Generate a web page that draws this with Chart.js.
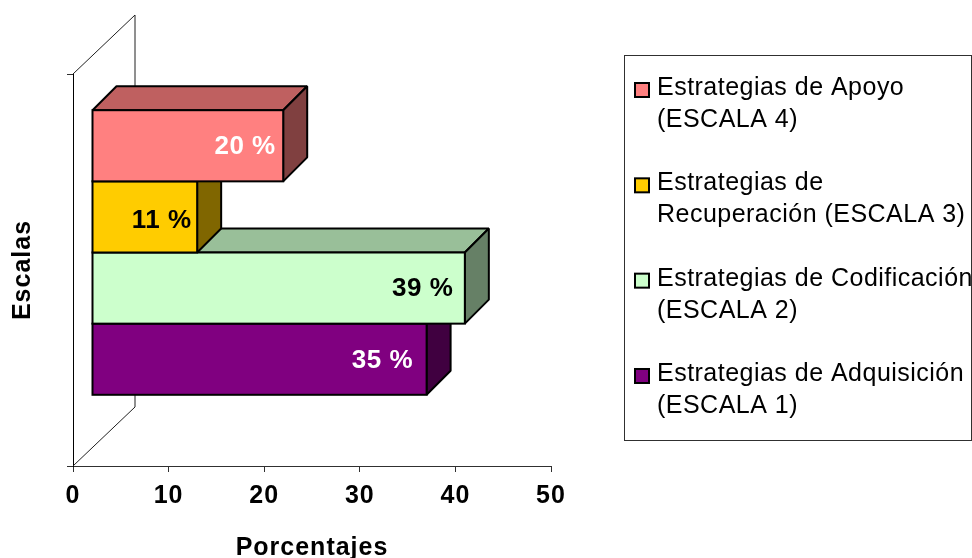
<!DOCTYPE html>
<html lang="es">
<head>
<meta charset="utf-8">
<title>Estrategias por escala</title>
<script src="https://cdn.jsdelivr.net/npm/chart.js@4/dist/chart.umd.js"></script>
<style>
  html, body { margin: 0; padding: 0; background: #ffffff; }
  canvas { display: block; }
</style>
</head>
<body>
<canvas id="grafico" width="972" height="558"></canvas>
<script>
// Series, top to bottom in the bar stack
const seriesNames = ['Estrategias de Apoyo (ESCALA 4)', 'Estrategias de Recuperación (ESCALA 3)', 'Estrategias de Codificación (ESCALA 2)', 'Estrategias de Adquisición (ESCALA 1)'];
const legendLines = [
  ['Estrategias de Apoyo', '(ESCALA 4)'],
  ['Estrategias de', 'Recuperación (ESCALA 3)'],
  ['Estrategias de Codificación', '(ESCALA 2)'],
  ['Estrategias de Adquisición', '(ESCALA 1)']
];
const percentages = [20, 11, 39, 35];
const frontColors = ['#FF8080', '#FFCC00', '#CCFFCC', '#800080'];
const topColors = ['#BF6060', '#BF9900', '#99BF99', '#600060'];
const sideColors = ['#804040', '#806600', '#668066', '#400040'];
const labelColors = ['#FFFFFF', '#000000', '#000000', '#FFFFFF'];
const categories = ['Escalas'];
const xTicks = [0, 10, 20, 30, 40, 50];

// Oblique projection of the box: wall depth and where the bars sit within it
const WALL_DX = 62, WALL_DY = 59;
const BAR_SHIFT_X = 19, BAR_SHIFT_Y = -17.5;
const BAR_DX = 24, BAR_DY = 24;
const labelInsets = [8, 6, 12, 14];
const labelLifts = [1.5, 4, 1, 1.5];

const fontFamily = '"Liberation Sans", Arial, sans-serif';

function poly(ctx, pts, fill) {
  ctx.beginPath();
  pts.forEach((p, i) => i ? ctx.lineTo(p[0], p[1]) : ctx.moveTo(p[0], p[1]));
  ctx.closePath();
  ctx.fillStyle = fill;
  ctx.fill();
  ctx.stroke();
}

const box3d = {
  id: 'box3d',
  beforeDraw(chart) {
    chart.ctx.letterSpacing = '1px';
  },
  // Back wall outline behind the bars
  beforeDatasetsDraw(chart) {
    const { ctx, chartArea: a } = chart;
    ctx.save();
    ctx.strokeStyle = '#202020';
    ctx.lineWidth = 1;
    ctx.beginPath();
    ctx.moveTo(a.left, a.top);
    ctx.lineTo(a.left + WALL_DX, a.top - WALL_DY);
    ctx.lineTo(a.left + WALL_DX, a.bottom - WALL_DY);
    ctx.lineTo(a.left, a.bottom);
    ctx.stroke();
    ctx.restore();
  },
  // Top and side faces go under the front face the library draws
  beforeDatasetDraw(chart, args) {
    const ctx = chart.ctx;
    const i = args.index;
    ctx.save();
    ctx.translate(BAR_SHIFT_X, BAR_SHIFT_Y);
    const bar = args.meta.data[0];
    const top = bar.y - bar.height / 2, bottom = bar.y + bar.height / 2;
    const left = bar.base, right = bar.x;
    ctx.save();
    ctx.strokeStyle = '#000000';
    ctx.lineWidth = 2;
    ctx.lineJoin = 'bevel';
    poly(ctx, [[left, top], [left + BAR_DX, top - BAR_DY], [right + BAR_DX, top - BAR_DY], [right, top]], topColors[i]);
    poly(ctx, [[right, top], [right + BAR_DX, top - BAR_DY], [right + BAR_DX, bottom - BAR_DY], [right, bottom]], sideColors[i]);
    ctx.restore();
  },
  // Outline of the front face and its value label
  afterDatasetDraw(chart, args) {
    const ctx = chart.ctx;
    const i = args.index;
    const bar = args.meta.data[0];
    ctx.save();
    ctx.strokeStyle = '#000000';
    ctx.lineWidth = 2;
    ctx.strokeRect(bar.base, bar.y - bar.height / 2, bar.x - bar.base, bar.height);
    ctx.font = 'bold 26px ' + fontFamily;
    ctx.letterSpacing = '0.5px';
    ctx.fillStyle = labelColors[i];
    ctx.textAlign = 'right';
    ctx.textBaseline = 'middle';
    ctx.fillText(percentages[i] + ' %', bar.x - labelInsets[i] + 0.5, bar.y + labelLifts[i]);
    ctx.restore();
    ctx.restore();
  },
  // Boxed legend with wrapped entries
  afterDraw(chart) {
    const ctx = chart.ctx;
    ctx.save();
    ctx.letterSpacing = '0.48px';
    ctx.strokeStyle = '#303030';
    ctx.lineWidth = 1;
    ctx.strokeRect(624.5, 55.5, 347, 385);
    ctx.font = '25px ' + fontFamily;
    ctx.textBaseline = 'middle';
    ctx.textAlign = 'left';
    legendLines.forEach((lines, i) => {
      const y = 87 + i * 95.33;
      ctx.fillStyle = frontColors[i];
      ctx.strokeStyle = '#000000';
      ctx.lineWidth = 2;
      ctx.fillRect(635, y - 4, 14, 14);
      ctx.strokeRect(635, y - 4, 14, 14);
      ctx.fillStyle = '#000000';
      lines.forEach((t, j) => ctx.fillText(t, 657, y + 1 + j * 32));
    });
    ctx.restore();
  }
};

new Chart(document.getElementById('grafico'), {
  type: 'bar',
  data: {
    labels: categories,
    datasets: seriesNames.map((name, i) => ({
      label: name,
      data: [percentages[i]],
      backgroundColor: frontColors[i],
      borderWidth: 0,
      clip: false
    }))
  },
  plugins: [box3d],
  options: {
    indexAxis: 'y',
    responsive: false,
    animation: false,
    categoryPercentage: 0.726,
    barPercentage: 1,
    layout: { padding: { top: 74, right: 421, left: 0, bottom: 0 } },
    plugins: { legend: { display: false }, tooltip: { enabled: false }, title: { display: false } },
    scales: {
      x: {
        type: 'linear',
        min: xTicks[0],
        max: xTicks[xTicks.length - 1],
        afterFit(s) { s.height = 92; },
        afterBuildTicks(s) { s.ticks = xTicks.map(v => ({ value: v })); },
        grid: { drawOnChartArea: false, drawTicks: true, tickLength: 6, color: '#303030' },
        border: { display: true, color: '#303030', width: 1 },
        ticks: { color: '#000000', font: { family: fontFamily, size: 25, weight: 'bold' }, padding: 9, autoSkip: false, maxRotation: 0 },
        title: { display: true, text: 'Porcentajes', color: '#000000', font: { family: fontFamily, size: 25, weight: 'bold', lineHeight: 1 }, padding: { top: 0, bottom: -3 } }
      },
      y: {
        type: 'category',
        afterFit(s) { s.width = 73; },
        grid: { offset: true, drawOnChartArea: false, drawTicks: true, tickLength: 6, color: '#303030' },
        border: { display: true, color: '#000000', width: 1 },
        ticks: { display: false },
        title: { display: true, text: 'Escalas', color: '#000000', font: { family: fontFamily, size: 25, weight: 'bold', lineHeight: 1 }, padding: { top: 10.5, bottom: 0 } }
      }
    }
  }
});
</script>
</body>
</html>
